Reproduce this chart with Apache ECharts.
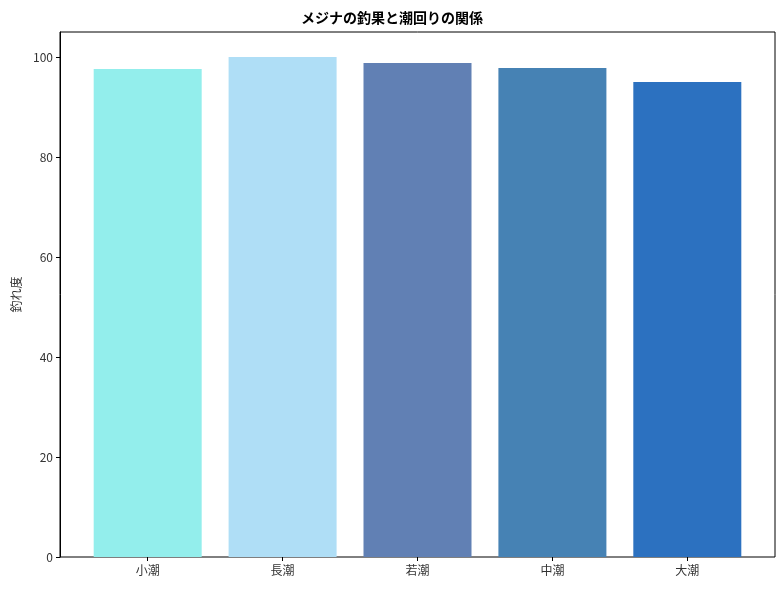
<!DOCTYPE html>
<html>
<head>
<meta charset="utf-8">
<script src="https://cdn.jsdelivr.net/npm/echarts@6/dist/echarts.min.js"></script>
<style>html,body{margin:0;padding:0;background:#fff;}#c{width:784px;height:590px;}</style>
</head>
<body>
<div id="c"></div>
<script>
const categories = ['小潮', '長潮', '若潮', '中潮', '大潮'];
const values = [97.6, 100, 98.8, 97.8, 95.0];
const colors = ['#93EEEC', '#AFDEF6', '#6180B4', '#4682B4', '#2C71C0'];
const yTicks = [0, 20, 40, 60, 80, 100];
const title = 'メジナの釣果と潮回りの関係';
const yName = '釣れ度';

const font = '"Noto Sans CJK JP", "Noto Sans", sans-serif';
const chart = echarts.init(document.getElementById('c'));
const positions = categories.map((_, i) => i);
chart.setOption({
  animation: false,
  backgroundColor: '#fff',
  title: {
    text: title, left: 'center', top: 6,
    textStyle: { fontFamily: font, fontSize: 14, fontWeight: 'bold', color: '#000' }
  },
  grid: { left: 60, right: 9, top: 32, bottom: 33, show: true, borderColor: '#000', borderWidth: 1, backgroundColor: 'transparent' },
  xAxis: {
    type: 'value', min: -0.65, max: 4.65,
    axisLine: { show: false, onZero: false },
    splitLine: { show: false },
    axisTick: { show: true, length: 4, customValues: positions, lineStyle: { color: '#000' } },
    axisLabel: {
      customValues: positions, margin: 7,
      formatter: v => categories[Math.round(v)],
      fontFamily: font, fontSize: 12, color: '#333'
    }
  },
  yAxis: {
    type: 'value', min: 0, max: 105,
    name: yName, nameLocation: 'middle', nameGap: 38, nameRotate: 90,
    nameTextStyle: { fontFamily: font, fontSize: 12, color: '#333' },
    axisLine: { show: true, onZero: false, lineStyle: { color: '#000' } },
    splitLine: { show: false },
    axisTick: { show: true, length: 4, customValues: yTicks, lineStyle: { color: '#000' } },
    axisLabel: { customValues: yTicks, margin: 7, fontFamily: font, fontSize: 12, color: '#333' }
  },
  series: [{
    type: 'bar',
    barWidth: 108,
    data: values.map((v, i) => ({ value: [i, v], itemStyle: { color: colors[i] } }))
  }]
});
</script>
</body>
</html>
